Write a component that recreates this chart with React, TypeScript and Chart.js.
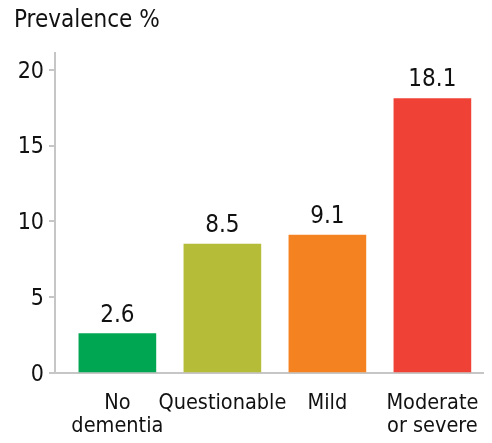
import { useEffect, useRef } from 'react';
import { Chart, registerables } from 'chart.js';

Chart.register(...registerables);

const FONT = "'Liberation Sans Narrow', 'DejaVu Sans Condensed', 'Liberation Sans', sans-serif";
const TEXT = '#111111';
const AXIS = '#c6c6c6';

const titleText = 'Prevalence %';
const categories: string[][] = [['No', 'dementia'], ['Questionable'], ['Mild'], ['Moderate', 'or severe']];
const categoryPositions = [0, 1, 2, 3];
const prevalence = [2.6, 8.5, 9.1, 18.1];
const barColors = ['#00A651', '#B5BD38', '#F58220', '#EF4136'];
const yTicks = [0, 5, 10, 15, 20];

const valueLabels = {
  id: 'valueLabels',
  afterDatasetsDraw(chart: any) {
    const ctx = chart.ctx;
    const meta = chart.getDatasetMeta(0);
    ctx.save();
    ctx.font = `24px ${FONT}`;
    ctx.fillStyle = TEXT;
    ctx.textAlign = 'center';
    ctx.textBaseline = 'alphabetic';
    meta.data.forEach((el: any, i: number) => {
      ctx.fillText(prevalence[i].toFixed(1), el.x, el.y - 12);
    });
    ctx.restore();
  },
};

const axisTitle = {
  id: 'axisTitle',
  afterDraw(chart: any) {
    const ctx = chart.ctx;
    ctx.save();
    ctx.font = `24px ${FONT}`;
    ctx.fillStyle = TEXT;
    ctx.textAlign = 'left';
    ctx.textBaseline = 'alphabetic';
    ctx.fillText(titleText, 14, 27);
    ctx.restore();
  },
};

export default function App() {
  const ref = useRef<HTMLCanvasElement | null>(null);

  useEffect(() => {
    document.body.style.margin = '0';
    if (!ref.current) return;
    const chart = new Chart(ref.current, {
      type: 'bar',
      data: {
        datasets: [
          {
            data: prevalence.map((v, i) => ({ x: categoryPositions[i], y: v })) as any,
            backgroundColor: barColors,
            borderWidth: 0,
            barThickness: 77,
          },
        ],
      },
      options: {
        animation: false,
        responsive: false,
        layout: { padding: { top: 53, left: 14, right: 9, bottom: 0 } },
        plugins: {
          legend: { display: false },
          tooltip: { enabled: false },
          title: { display: false },
        },
        scales: {
          x: {
            type: 'linear',
            min: -0.594,
            max: 3.482,
            offset: false,
            afterBuildTicks: (axis: any) => {
              axis.ticks = categoryPositions.map((v) => ({ value: v }));
            },
            afterFit: (axis: any) => {
              axis.height = 70;
            },
            grid: { display: false, offset: false },
            border: { display: true, color: AXIS, width: 2 },
            ticks: {
              color: TEXT,
              font: { family: FONT, size: 21.5, lineHeight: 23 / 21.5 },
              padding: 11,
              maxRotation: 0,
              autoSkip: false,
              callback: (value: any) => categories[Math.round(Number(value))] ?? '',
            },
          },
          y: {
            min: 0,
            max: 21.1,
            afterBuildTicks: (axis: any) => {
              axis.ticks = yTicks.map((v) => ({ value: v }));
            },
            afterFit: (axis: any) => {
              axis.width = 41;
            },
            grid: {
              display: true,
              drawOnChartArea: false,
              drawTicks: true,
              tickLength: 6,
              color: AXIS,
              lineWidth: 2,
            },
            border: { display: true, color: AXIS, width: 2 },
            ticks: {
              color: TEXT,
              font: { family: FONT, size: 23 },
              padding: 5,
              labelOffset: 2,
            },
          },
        },
      },
      plugins: [valueLabels, axisTitle],
    });
    return () => chart.destroy();
  }, []);

  return (
    <div style={{ position: 'absolute', left: 0, top: 0, width: 492, height: 443 }}>
      <canvas ref={ref} width={492} height={443} />
    </div>
  );
}
